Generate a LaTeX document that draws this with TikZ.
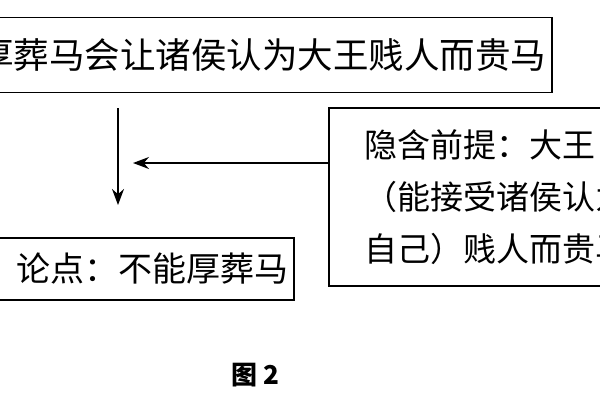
\documentclass[tikz,border=0pt]{standalone}
\usepackage{fontspec}
\setmainfont{Noto Sans CJK SC}
\usetikzlibrary{positioning, arrows.meta}

\begin{document}
\begin{tikzpicture}[x=1pt, y=1pt,
    box/.style={rectangle, draw=black, line width=1.6pt, inner sep=6pt, font=\fontsize{33}{52}\selectfont},
    link/.style={draw, line width=1.6pt, -{Stealth[length=16pt, width=12pt]}}
]
\useasboundingbox (0,0) rectangle (600,-400);
\clip (0,0) rectangle (600,-400);

% Boxes
\node[box, anchor=east, minimum height=75pt, font=\fontsize{35.5}{40}\selectfont] (Claim) at (553,-55) {厚葬马会让诸侯认为大王贱人而贵马};
\node[box, anchor=east, minimum height=62pt, text width=300pt, align=right, font=\fontsize{34}{40}\selectfont] (Thesis) at (295,-269) {论点：不能厚葬马};
\node[box, anchor=north west, minimum height=178pt, align=left, inner xsep=36pt] (Premise) at (328,-107)
    {隐含前提：大王\\（能接受诸侯认为\\自己）贱人而贵马};

% Caption
\node[font=\fontsize{26}{30}\selectfont\bfseries] (Caption) at (255,-375) {图 2};

% Connections
\coordinate (Top) at (118,-108);
\coordinate (Bottom) at (118,-205);
\coordinate (Join) at (133,-163);
\draw[link] (Top) -- (Bottom);
\draw[link] (Premise.west |- Join) -- (Join);

\end{tikzpicture}
\end{document}
